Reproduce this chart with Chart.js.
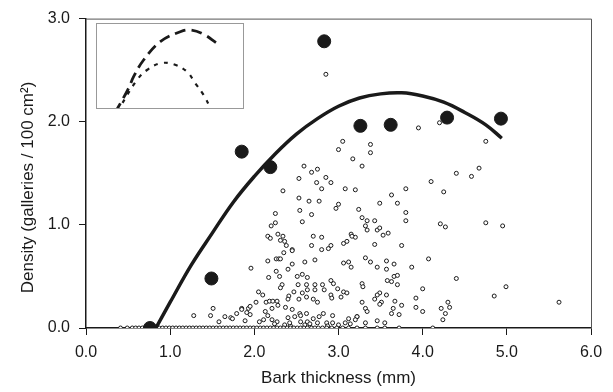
<!DOCTYPE html>
<html>
<head>
<meta charset="utf-8">
<script src="https://cdn.jsdelivr.net/npm/chart.js@4.4.1/dist/chart.umd.min.js"></script>
<style>
  html, body { margin: 0; padding: 0; background: #fff; }
  #wrap { position: relative; width: 613px; height: 392px; }
  #main { position: absolute; left: 0; top: 0; }
  #inset { position: absolute; left: 96px; top: 23px; background: #fff; }
</style>
</head>
<body>
<div id="wrap">
  <canvas id="main" width="613" height="392"></canvas>
  <canvas id="inset" width="148" height="86"></canvas>
</div>
<script>
// mean densities (large dots)
const meanX = [0.76, 1.49, 1.85, 2.19, 2.83, 3.26, 3.62, 4.29, 4.93];
const meanY = [0.0, 0.48, 1.71, 1.56, 2.78, 1.96, 1.97, 2.04, 2.03];

// fitted curve
const curveX = [0.83, 1.0, 1.25, 1.5, 1.75, 2.0, 2.25, 2.5, 2.75, 3.0, 3.25, 3.5, 3.75, 4.0, 4.25, 4.5, 4.75, 4.94];
const curveY = [0.0, 0.25, 0.61, 0.92, 1.22, 1.47, 1.69, 1.88, 2.03, 2.15, 2.23, 2.27, 2.28, 2.25, 2.19, 2.09, 1.97, 1.84];

// individual trees (small open circles)
const treeX = [
  2.59, 2.68, 2.75, 2.53, 2.85, 2.74, 2.91, 2.80, 3.08, 3.20, 3.17, 2.34, 2.53, 2.65, 2.77, 3.00, 2.97, 2.25, 2.54, 2.68,
  3.24, 2.25, 2.20, 2.57, 2.28, 2.16, 2.19, 2.34, 2.31, 2.36, 2.38, 2.70, 2.80, 2.68, 2.45, 2.80, 2.88, 2.91, 3.06, 3.10,
  3.15, 3.20, 1.96, 2.16, 2.26, 2.29, 2.31, 2.35, 2.45, 2.45, 2.60, 2.72, 2.26, 2.30, 2.17, 2.40, 2.51, 2.57, 2.63, 2.33,
  2.31, 2.52, 2.62, 2.72, 2.81, 2.91, 2.94, 2.99, 3.06, 3.10, 3.03, 2.91, 2.83, 2.72, 2.63, 2.57, 2.47, 2.41, 2.40, 2.53,
  2.62, 2.70, 2.75, 2.92, 2.05, 2.10, 2.02, 2.14, 2.18, 2.22, 2.27, 2.28, 2.21, 1.93, 1.85, 1.95, 1.79, 1.72, 2.37, 2.45,
  2.54, 2.48, 2.55, 2.62, 2.70, 2.77, 2.82, 2.93, 3.12, 3.22, 2.40, 2.13, 2.16, 2.11, 2.21, 2.27, 2.06, 1.89, 2.55, 2.86,
  2.93, 3.08, 2.63, 2.75, 2.43, 2.66, 3.32, 3.38, 3.46, 3.57, 3.66, 3.57, 3.87, 4.07, 3.66, 3.70, 3.58, 3.63, 3.70, 3.28,
  3.29, 4.40, 4.00, 3.49, 3.46, 3.43, 3.57, 3.51, 3.49, 3.28, 3.32, 3.34, 3.67, 3.75, 3.65, 3.63, 3.72, 3.92, 3.92, 4.00,
  4.22, 4.30, 4.32, 4.27, 4.24, 3.22, 3.20, 3.32, 3.46, 3.55, 2.85, 3.95, 4.20, 3.05, 3.00, 3.38, 3.38, 3.28, 4.75, 4.40,
  4.58, 4.67, 4.10, 4.25, 3.80, 3.63, 3.49, 3.70, 3.80, 3.80, 3.28, 3.34, 3.43, 3.32, 3.34, 3.46, 3.49, 3.53, 3.59, 4.21,
  4.27, 4.75, 4.95, 3.16, 3.43, 3.75, 3.06, 3.12, 3.15, 4.99, 4.85, 5.62, 1.28, 1.48, 1.51, 1.58, 1.65, 1.74, 1.85, 1.91,
  1.95, 2.24, 2.36, 2.42, 2.60, 2.66, 2.87, 3.00, 3.14
];
const treeY = [
  1.57, 1.51, 1.54, 1.45, 1.46, 1.41, 1.41, 1.35, 1.35, 1.34, 1.64, 1.33, 1.26, 1.23, 1.23, 1.20, 1.16, 1.11, 1.14, 1.10,
  1.15, 1.02, 0.99, 1.03, 0.91, 0.89, 0.87, 0.89, 0.85, 0.84, 0.80, 0.89, 0.88, 0.80, 0.76, 0.76, 0.77, 0.80, 0.82, 0.84,
  0.91, 0.88, 0.58, 0.65, 0.67, 0.67, 0.67, 0.73, 0.75, 0.62, 0.64, 0.66, 0.55, 0.50, 0.49, 0.57, 0.50, 0.52, 0.49, 0.42,
  0.39, 0.42, 0.42, 0.42, 0.42, 0.46, 0.43, 0.38, 0.35, 0.34, 0.30, 0.32, 0.37, 0.37, 0.37, 0.34, 0.35, 0.31, 0.28, 0.28,
  0.30, 0.28, 0.25, 0.29, 0.35, 0.32, 0.25, 0.25, 0.26, 0.26, 0.26, 0.22, 0.19, 0.19, 0.19, 0.21, 0.14, 0.10, 0.20, 0.18,
  0.14, 0.11, 0.12, 0.14, 0.09, 0.11, 0.14, 0.12, 0.09, 0.11, 0.10, 0.16, 0.12, 0.08, 0.08, 0.06, 0.06, 0.07, 0.06, 0.05,
  0.05, 0.05, 0.06, 0.05, 0.02, 0.01, 0.68, 0.64, 0.59, 0.65, 0.62, 0.57, 0.59, 0.67, 0.50, 0.51, 0.46, 0.45, 0.42, 0.43,
  0.40, 0.48, 0.38, 0.34, 0.32, 0.28, 0.32, 0.25, 0.23, 0.25, 0.19, 0.16, 0.26, 0.22, 0.19, 0.14, 0.13, 0.29, 0.20, 0.16,
  0.19, 0.25, 0.20, 0.14, 0.08, 0.11, 0.08, 0.05, 0.07, 0.05, 2.46, 1.94, 1.99, 1.81, 1.73, 1.78, 1.70, 1.57, 1.81, 1.50,
  1.47, 1.55, 1.42, 1.32, 1.35, 1.29, 1.21, 1.21, 1.12, 1.04, 1.07, 1.04, 1.04, 0.99, 0.95, 0.95, 0.97, 0.90, 0.92, 1.01,
  0.98, 1.02, 0.99, 0.89, 0.81, 0.80, 0.63, 0.64, 0.59, 0.40, 0.31, 0.25, 0.12, 0.12, 0.19, 0.06, 0.11, 0.09, 0.18, 0.15,
  0.13, 0.04, 0.03, 0.05, 0.03, 0.04, 0.02, 0.03, 0.04
];

// trees with no galleries (row along zero)
const zeroX = [
  0.41, 0.49, 0.55, 0.59, 0.63, 0.67, 0.71, 0.75, 0.79, 0.83, 0.87, 0.91, 0.95, 0.99, 1.03, 1.07, 1.11, 1.15, 1.19, 1.23,
  1.27, 1.31, 1.35, 1.39, 1.43, 1.47, 1.51, 1.55, 1.59, 1.63, 1.67, 1.71, 1.75, 1.79, 1.83, 1.87, 1.91, 1.95, 1.99, 2.03,
  2.07, 2.11, 2.15, 2.19, 2.23, 2.27, 2.31, 2.35, 2.39, 2.43, 2.47, 2.51, 2.55, 2.59, 2.63, 2.68, 2.72, 2.76, 2.81, 2.86,
  2.92, 2.98, 3.05, 3.12, 3.22, 3.32, 3.46, 3.55, 3.72, 4.12
];

// inset curves (arbitrary inset units)
const insetLongX = [19, 21.6, 32.6, 37.6, 47.6, 64.3, 84.3, 94.3, 107.6, 121];
const insetLongY = [-4, 0.7, 20.7, 32.3, 49, 67.3, 77.3, 79, 74.7, 65.7];
const insetShortX = [22, 24.3, 41, 51, 64.3, 77.6, 91, 99.3, 107.6, 114.3];
const insetShortY = [-3, 2.3, 29, 39, 45.7, 44.7, 37.3, 25.7, 14, 1.3];

const xTicks = [0, 1, 2, 3, 4, 5, 6];
const yTicks = [0, 1, 2, 3];

const pts = (xs, ys) => xs.map((x, i) => ({ x, y: ys[i] }));
const FONT = "'Liberation Sans', Arial, sans-serif";
const INK = "#1a1a1a";

const frame = {
  id: "frame",
  afterDraw(chart) {
    const { ctx, chartArea: a } = chart;
    ctx.save();
    ctx.strokeStyle = "#555";
    ctx.lineWidth = 1;
    ctx.beginPath();
    ctx.moveTo(a.left, a.top + 0.5);
    ctx.lineTo(a.right + 0.5, a.top + 0.5);
    ctx.lineTo(a.right + 0.5, a.bottom);
    ctx.stroke();
    ctx.restore();
  }
};

new Chart(document.getElementById("main"), {
  type: "scatter",
  data: {
    datasets: [
      {
        data: pts(treeX, treeY).concat(zeroX.map((x) => ({ x, y: 0 }))),
        pointRadius: 2,
        pointBorderWidth: 1,
        pointBackgroundColor: "#fff",
        pointBorderColor: INK,
        order: 3
      },
      {
        data: pts(curveX, curveY),
        showLine: true,
        borderColor: INK,
        borderWidth: 3.5,
        tension: 0.4,
        pointRadius: 0,
        order: 2
      },
      {
        data: pts(meanX, meanY),
        pointRadius: 6.5,
        pointBackgroundColor: INK,
        pointBorderColor: INK,
        order: 1
      }
    ]
  },
  options: {
    responsive: false,
    animation: false,
    layout: { padding: { left: 0, right: 22, top: 15, bottom: 0 } },
    plugins: { legend: { display: false }, tooltip: { enabled: false } },
    scales: {
      x: {
        min: 0,
        max: 6,
        afterBuildTicks: (s) => { s.ticks = xTicks.map((v) => ({ value: v })); },
        afterFit: (s) => { s.height = 64; },
        border: { display: true, color: INK, width: 1.5 },
        grid: { drawOnChartArea: false, drawTicks: true, tickLength: 7, color: INK },
        ticks: {
          padding: 8,
          color: INK,
          font: { family: FONT, size: 16 },
          callback: (v) => Number(v).toFixed(1)
        },
        title: {
          display: true,
          text: "Bark thickness (mm)",
          color: INK,
          font: { family: FONT, size: 17 },
          padding: { top: 4, bottom: 3 }
        }
      },
      y: {
        min: 0,
        max: 3,
        afterBuildTicks: (s) => { s.ticks = yTicks.map((v) => ({ value: v })); },
        afterFit: (s) => { s.width = 86; },
        border: { display: true, color: INK, width: 1.5 },
        grid: { drawOnChartArea: false, drawTicks: true, tickLength: 7, color: INK },
        ticks: {
          padding: 9,
          color: INK,
          font: { family: FONT, size: 16 },
          callback: (v) => Number(v).toFixed(1)
        },
        title: {
          display: true,
          text: "Density (galleries / 100 cm²)\u00a0\u00a0\u00a0\u00a0\u00a0\u00a0",
          color: INK,
          font: { family: FONT, size: 17 },
          padding: { top: 18, bottom: 4 }
        }
      }
    }
  },
  plugins: [frame]
});

const insetBox = {
  id: "insetBox",
  afterDraw(chart) {
    const { ctx } = chart;
    ctx.save();
    ctx.strokeStyle = "#999";
    ctx.lineWidth = 1;
    ctx.strokeRect(0.5, 0.5, chart.width - 1, chart.height - 1);
    ctx.restore();
  }
};

new Chart(document.getElementById("inset"), {
  type: "scatter",
  data: {
    datasets: [
      {
        data: pts(insetLongX, insetLongY),
        showLine: true,
        borderColor: INK,
        borderWidth: 2.8,
        borderDash: [11, 6],
        tension: 0.4,
        pointRadius: 0
      },
      {
        data: pts(insetShortX, insetShortY),
        showLine: true,
        borderColor: INK,
        borderWidth: 2.2,
        borderDash: [4, 6],
        tension: 0.4,
        pointRadius: 0
      }
    ]
  },
  options: {
    responsive: false,
    animation: false,
    layout: { padding: 0 },
    plugins: { legend: { display: false }, tooltip: { enabled: false } },
    scales: {
      x: { display: false, min: 0, max: 148 },
      y: { display: false, min: 0, max: 86 }
    }
  },
  plugins: [insetBox]
});
</script>
</body>
</html>
